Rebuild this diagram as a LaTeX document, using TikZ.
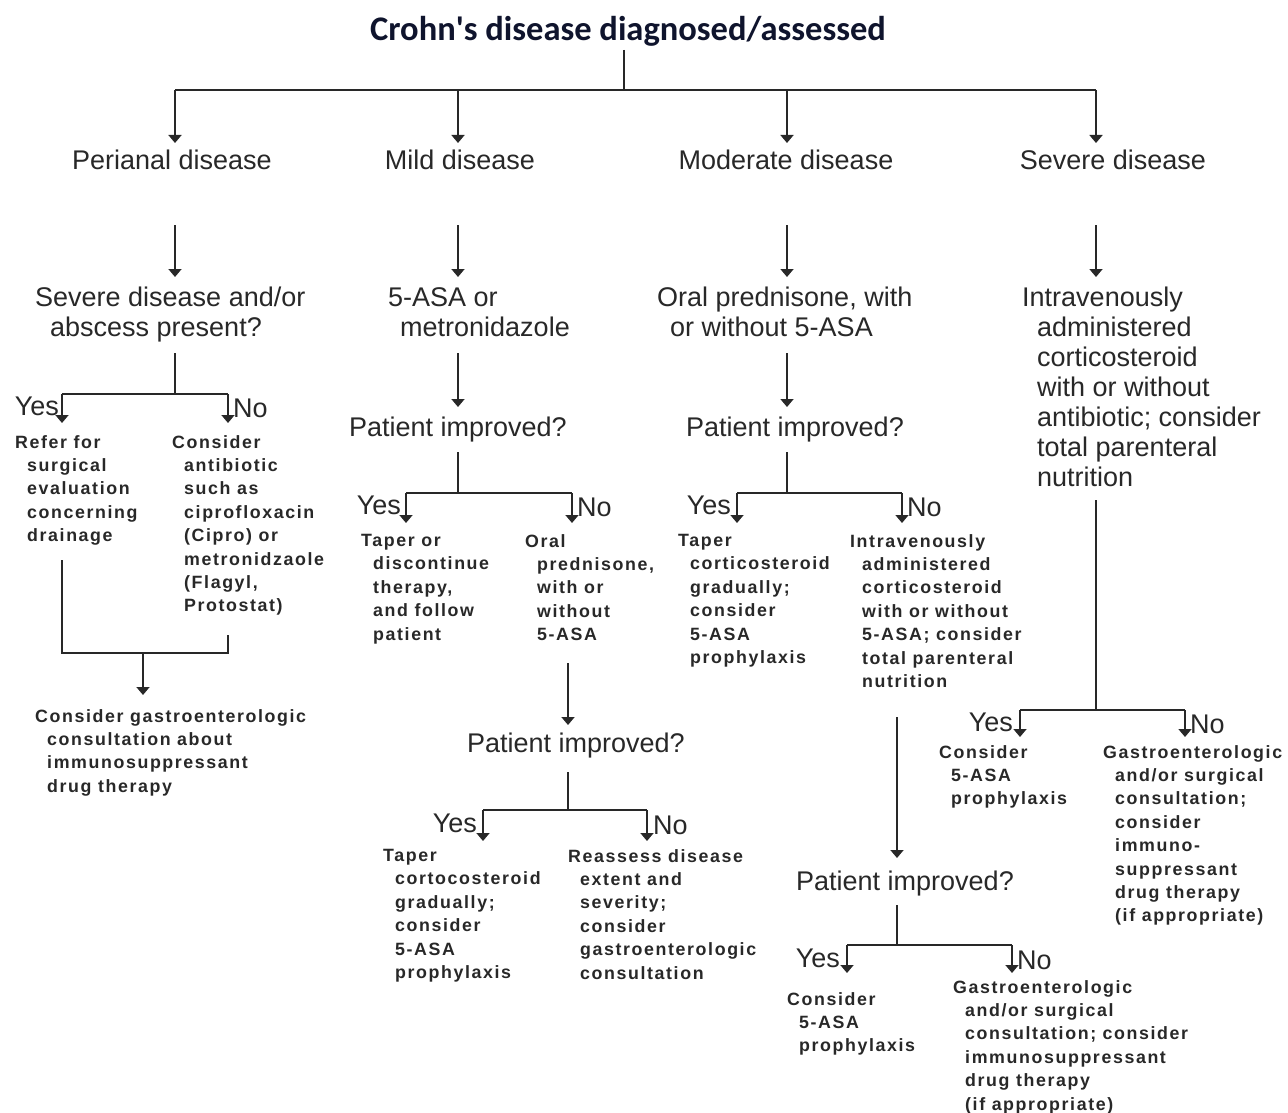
\documentclass[tikz,border=0pt]{standalone}
\usepackage{fontspec}
\setmainfont{Liberation Sans}
\newfontfamily\titlefont{Carlito}
\newfontfamily\smallfont[LetterSpace=9]{Liberation Sans}
\usetikzlibrary{arrows.meta}
\definecolor{titlec}{RGB}{15,20,45}
\definecolor{ink}{RGB}{40,40,40}
\newcommand{\hind}{\hspace*{12pt}}
\tikzset{
  line/.style={draw=ink, line width=1.7pt},
  arr/.style={line, -{Triangle[width=13pt,length=8pt]}},
  titletext/.style={font=\titlefont\bfseries\fontsize{34.5}{40}\selectfont, text=titlec, inner sep=0pt},
  big/.style={font=\fontsize{27}{30}\selectfont, text=ink, inner sep=0pt, align=left},
  sm/.style={font=\smallfont\bfseries\fontsize{17.8}{23.4}\selectfont, text=ink, inner sep=0pt, align=left},
  yn/.style={font=\fontsize{27}{30}\selectfont, text=ink, inner sep=0pt},
}
\begin{document}
\begin{tikzpicture}[x=1pt,y=-1pt]
\fill[white] (0,0) rectangle (1288,1113);
\useasboundingbox (0,0) rectangle (1288,1113);

% ---------- nodes ----------
\node[titletext, anchor=base] (title) at (628,41) {Crohn\textquotesingle s disease diagnosed/assessed};

\node[big, anchor=base] (peri) at (172,170) {Perianal disease};
\node[big, anchor=base] (mild) at (460,170) {Mild disease};
\node[big, anchor=base] (mod)  at (786,170) {Moderate disease};
\node[big, anchor=base] (sev)  at (1113,170) {Severe disease};

\node[big, anchor=north west] (p2) at (35,287) {Severe disease and/or\\\hspace*{15pt}abscess present?};
\node[big, anchor=north west] (m2) at (388,287) {5-ASA or\\\hspace*{12pt}metronidazole};
\node[big, anchor=north west] (mo2) at (657,287) {Oral prednisone, with\\\hspace*{13pt}or without 5-ASA};
\node[big, anchor=north west] (s2) at (1022,287) {Intravenously\\\hspace*{15pt}administered\\\hspace*{15pt}corticosteroid\\\hspace*{15pt}with or without\\\hspace*{15pt}antibiotic; consider\\\hspace*{15pt}total parenteral\\\hspace*{15pt}nutrition};

\node[big, anchor=base] (m3) at (458,436) {Patient improved?};
\node[big, anchor=base] (mo3) at (795,436) {Patient improved?};
\node[big, anchor=base] (m5) at (576,752) {Patient improved?};
\node[big, anchor=base] (mo5) at (905,890) {Patient improved?};

% Yes / No labels
\node[yn, anchor=base east] (pyes) at (59,415) {Yes};
\node[yn, anchor=base west] (pno) at (233,417) {No};
\node[yn, anchor=base east] (myes) at (401,514) {Yes};
\node[yn, anchor=base west] (mno) at (577,516) {No};
\node[yn, anchor=base east] (moyes) at (731,514) {Yes};
\node[yn, anchor=base west] (mono) at (907,516) {No};
\node[yn, anchor=base east] (m5yes) at (477,832) {Yes};
\node[yn, anchor=base west] (m5no) at (653,834) {No};
\node[yn, anchor=base east] (mo5yes) at (840,967) {Yes};
\node[yn, anchor=base west] (mo5no) at (1017,969) {No};
\node[yn, anchor=base east] (syes) at (1013,731) {Yes};
\node[yn, anchor=base west] (sno) at (1190,733) {No};

% small outcome texts
\node[sm, anchor=north west] (py) at (15,435) {Refer for\\\hind surgical\\\hind evaluation\\\hind concerning\\\hind drainage};
\node[sm, anchor=north west] (pn) at (172,435) {Consider\\\hind antibiotic\\\hind such as\\\hind ciprofloxacin\\\hind (Cipro) or\\\hind metronidzaole\\\hind (Flagyl,\\\hind Protostat)};
\node[sm, anchor=north west] (pc) at (35,709) {Consider gastroenterologic\\\hind consultation about\\\hind immunosuppressant\\\hind drug therapy};

\node[sm, anchor=north west] (my) at (361,534) {Taper or\\\hind discontinue\\\hind therapy,\\\hind and follow\\\hind patient};
\node[sm, anchor=north west] (mn) at (525,534) {Oral\\\hind prednisone,\\\hind with or\\\hind without\\\hind 5-ASA};
\node[sm, anchor=north west] (m5y) at (383,849) {Taper\\\hind cortocosteroid\\\hind gradually;\\\hind consider\\\hind 5-ASA\\\hind prophylaxis};
\node[sm, anchor=north west] (m5n) at (568,849) {Reassess disease\\\hind extent and\\\hind severity;\\\hind consider\\\hind gastroenterologic\\\hind consultation};

\node[sm, anchor=north west] (moy) at (678,534) {Taper\\\hind corticosteroid\\\hind gradually;\\\hind consider\\\hind 5-ASA\\\hind prophylaxis};
\node[sm, anchor=north west] (mon) at (850,534) {Intravenously\\\hind administered\\\hind corticosteroid\\\hind with or without\\\hind 5-ASA; consider\\\hind total parenteral\\\hind nutrition};
\node[sm, anchor=north west] (mo5y) at (787,992) {Consider\\\hind 5-ASA\\\hind prophylaxis};
\node[sm, anchor=north west] (mo5n) at (953,980) {Gastroenterologic\\\hind and/or surgical\\\hind consultation; consider\\\hind immunosuppressant\\\hind drug therapy\\\hind (if appropriate)};

\node[sm, anchor=north west] (sy) at (939,745) {Consider\\\hind 5-ASA\\\hind prophylaxis};
\node[sm, anchor=north west] (sn) at (1103,745) {Gastroenterologic\\\hind and/or surgical\\\hind consultation;\\\hind consider\\\hind immuno-\\\hind suppressant\\\hind drug therapy\\\hind (if appropriate)};

% ---------- junction coordinates ----------
\coordinate (t0) at (624,50);
\coordinate (tb) at (624,90);
\coordinate (b1) at (175,90);
\coordinate (b2) at (458,90);
\coordinate (b3) at (787,90);
\coordinate (b4) at (1096,90);

\coordinate (pa) at (175,225);
\coordinate (ma) at (458,225);
\coordinate (moa) at (787,225);
\coordinate (sa) at (1096,225);

\coordinate (pq) at (175,353);
\coordinate (pj) at (175,394);
\coordinate (pjl) at (62,394);
\coordinate (pjr) at (228,394);
\coordinate (pyl) at (62,560);
\coordinate (pnl) at (228,635);
\coordinate (pbl) at (62,653);
\coordinate (pbr) at (228,653);
\coordinate (pbm) at (143,653);

\coordinate (mq) at (458,353);
\coordinate (mr) at (458,452);
\coordinate (mj) at (458,493);
\coordinate (mjl) at (406,493);
\coordinate (mjr) at (572,493);
\coordinate (mnd) at (568,663);
\coordinate (m5r) at (568,772);
\coordinate (m5j) at (568,810);
\coordinate (m5jl) at (483,810);
\coordinate (m5jr) at (647,810);

\coordinate (moq) at (787,353);
\coordinate (mor) at (787,452);
\coordinate (moj) at (787,493);
\coordinate (mojl) at (737,493);
\coordinate (mojr) at (902,493);
\coordinate (mond) at (897,717);
\coordinate (mo5r) at (897,905);
\coordinate (mo5j) at (897,945);
\coordinate (mo5jl) at (847,945);
\coordinate (mo5jr) at (1012,945);

\coordinate (sq) at (1096,500);
\coordinate (sj) at (1096,710);
\coordinate (sjl) at (1020,710);
\coordinate (sjr) at (1185,710);

% ---------- connectors ----------
\draw[line] (t0) -- (tb);
\draw[line] (b1) -- (b4);
\draw[arr] (b1) -- ++(0,53);
\draw[arr] (b2) -- ++(0,53);
\draw[arr] (b3) -- ++(0,53);
\draw[arr] (b4) -- ++(0,53);

\draw[arr] (pa) -- ++(0,52);
\draw[arr] (ma) -- ++(0,52);
\draw[arr] (moa) -- ++(0,52);
\draw[arr] (sa) -- ++(0,52);

% perianal
\draw[line] (pq) -- (pj);
\draw[line] (pjl) -- (pjr);
\draw[arr] (pjl) -- ++(0,29);
\draw[arr] (pjr) -- ++(0,29);
\draw[line] (pyl) -- (pbl) -- (pbr) -- (pnl);
\draw[arr] (pbm) -- ++(0,42);

% mild
\draw[arr] (mq) -- ++(0,54);
\draw[line] (mr) -- (mj);
\draw[line] (mjl) -- (mjr);
\draw[arr] (mjl) -- ++(0,30);
\draw[arr] (mjr) -- ++(0,30);
\draw[arr] (mnd) -- ++(0,62);
\draw[line] (m5r) -- (m5j);
\draw[line] (m5jl) -- (m5jr);
\draw[arr] (m5jl) -- ++(0,31);
\draw[arr] (m5jr) -- ++(0,31);

% moderate
\draw[arr] (moq) -- ++(0,54);
\draw[line] (mor) -- (moj);
\draw[line] (mojl) -- (mojr);
\draw[arr] (mojl) -- ++(0,30);
\draw[arr] (mojr) -- ++(0,30);
\draw[arr] (mond) -- ++(0,141);
\draw[line] (mo5r) -- (mo5j);
\draw[line] (mo5jl) -- (mo5jr);
\draw[arr] (mo5jl) -- ++(0,28);
\draw[arr] (mo5jr) -- ++(0,28);

% severe
\draw[line] (sq) -- (sj);
\draw[line] (sjl) -- (sjr);
\draw[arr] (sjl) -- ++(0,27);
\draw[arr] (sjr) -- ++(0,27);
\end{tikzpicture}
\end{document}
